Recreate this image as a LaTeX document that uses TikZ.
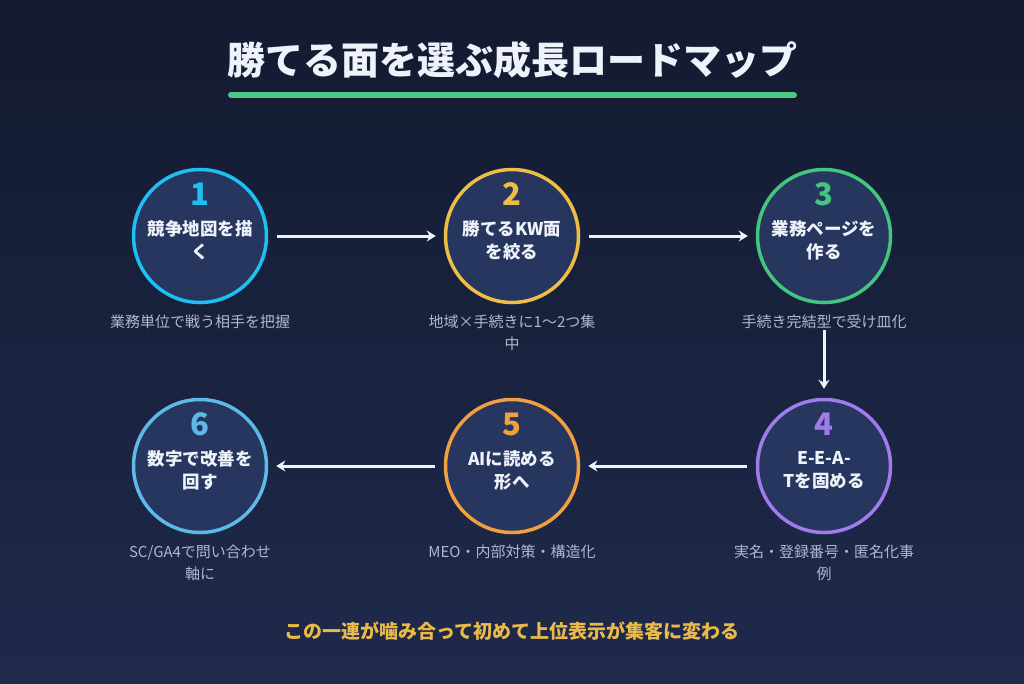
\documentclass[tikz,border=0pt]{standalone}
\usepackage{fontspec}
\setmainfont{Noto Sans CJK JP}
\usepackage{xcolor}
\usepackage{tikz}
\usetikzlibrary{arrows.meta, positioning}

\definecolor{bgtop}{HTML}{131A30}
\definecolor{bgbot}{HTML}{1F2A4B}
\definecolor{discfill}{HTML}{27365F}
\definecolor{textwhite}{HTML}{EEF2FA}
\definecolor{subgrey}{HTML}{AEB8CF}
\definecolor{titlegreen}{HTML}{4CC983}
\definecolor{noteyellow}{HTML}{E9B949}
\definecolor{ringcyan}{HTML}{1EC0F2}
\definecolor{ringyellow}{HTML}{EDBE45}
\definecolor{ringgreen}{HTML}{43C57F}
\definecolor{ringpurple}{HTML}{A07BEB}
\definecolor{ringorange}{HTML}{F0A040}
\definecolor{ringblue}{HTML}{5CB9E8}

\tikzstyle{arrow} = [draw=textwhite, line width=3pt, -{Stealth[length=9pt,width=11pt]}]

\begin{document}
\begin{tikzpicture}[
    x=1pt, y=-1pt,
    stepcircle/.style={circle, minimum size=133pt, line width=3.5pt, fill=discfill, inner sep=0pt},
    numlabel/.style={font=\fontsize{31}{31}\selectfont\bfseries, inner sep=0pt},
    steptext/.style={align=center, text=textwhite, font=\fontsize{17.5}{23}\selectfont\bfseries, inner sep=0pt},
    subtext/.style={align=center, text=subgrey, font=\fontsize{15}{22}\selectfont, inner sep=0pt}
]
\useasboundingbox (0,0) rectangle (1024,683);
\shade[top color=bgtop, bottom color=bgbot] (0,0) rectangle (1024,683);

% title
\node[text=textwhite, font=\fontsize{38}{42}\selectfont\bfseries] (title) at (512,60) {勝てる面を選ぶ成長ロードマップ};
\draw[titlegreen, line width=6pt, line cap=round] (231,95) -- (794,95);

% top row
\node[stepcircle, draw=ringcyan] (s1) at (200,236) {};
\node[numlabel, text=ringcyan] (n1) at ([yshift=42pt]s1.center) {1};
\node[steptext] (t1) at ([yshift=-4pt]s1.center) {競争地図を描\\く};
\node[subtext, below=10pt of s1] (d1) {業務単位で戦う相手を把握};

\node[stepcircle, draw=ringyellow] (s2) at (512,236) {};
\node[numlabel, text=ringyellow] (n2) at ([yshift=42pt]s2.center) {2};
\node[steptext] (t2) at ([yshift=-4pt]s2.center) {勝てるKW面\\を絞る};
\node[subtext, below=10pt of s2] (d2) {地域×手続きに1〜2つ集\\中};

\node[stepcircle, draw=ringgreen] (s3) at (824,236) {};
\node[numlabel, text=ringgreen] (n3) at ([yshift=42pt]s3.center) {3};
\node[steptext] (t3) at ([yshift=-4pt]s3.center) {業務ページを\\作る};
\node[subtext, below=10pt of s3] (d3) {手続き完結型で受け皿化};

% bottom row
\node[stepcircle, draw=ringpurple] (s4) at (824,466) {};
\node[numlabel, text=ringpurple] (n4) at ([yshift=42pt]s4.center) {4};
\node[steptext] (t4) at ([yshift=-4pt]s4.center) {E-E-A-\\Tを固める};
\node[subtext, below=10pt of s4] (d4) {実名・登録番号・匿名化事\\例};

\node[stepcircle, draw=ringorange] (s5) at (512,466) {};
\node[numlabel, text=ringorange] (n5) at ([yshift=42pt]s5.center) {5};
\node[steptext] (t5) at ([yshift=-4pt]s5.center) {AIに読める\\形へ};
\node[subtext, below=10pt of s5] (d5) {MEO・内部対策・構造化};

\node[stepcircle, draw=ringblue] (s6) at (200,466) {};
\node[numlabel, text=ringblue] (n6) at ([yshift=42pt]s6.center) {6};
\node[steptext] (t6) at ([yshift=-4pt]s6.center) {数字で改善を\\回す};
\node[subtext, below=10pt of s6] (d6) {SC/GA4で問い合わせ\\軸に};

% flow
\draw[arrow, shorten <=9pt, shorten >=8pt] (s1) -- (s2);
\draw[arrow, shorten <=9pt, shorten >=8pt] (s2) -- (s3);
\draw[arrow, shorten <=1pt, shorten >=9pt] (d3) -- (s4);
\draw[arrow, shorten <=9pt, shorten >=8pt] (s4) -- (s5);
\draw[arrow, shorten <=9pt, shorten >=8pt] (s5) -- (s6);

\node[text=noteyellow, font=\fontsize{19}{21}\selectfont\bfseries] (note) at (512,631) {この一連が噛み合って初めて上位表示が集客に変わる};
\end{tikzpicture}
\end{document}
